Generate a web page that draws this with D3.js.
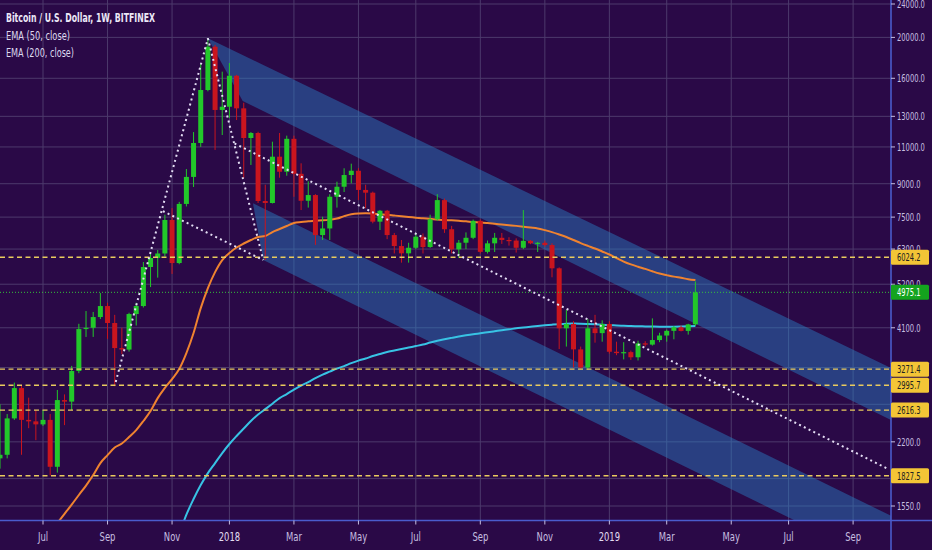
<!DOCTYPE html>
<html><head><meta charset="utf-8">
<script src="https://cdn.jsdelivr.net/npm/d3@7"></script>
<style>html,body{margin:0;padding:0;background:#2a0947;}svg{display:block}</style>
</head><body><svg id="chart" width="932" height="550"></svg>
<script>
// ---------- DATA ----------
const firstWeek = "2017-05-22";   // weekly candles, Monday open
const lastWeek  = "2019-04-01";
const open  = [2010,2050,2500,2950,2480,2460,2420,2480,1920,2763,2740,3238,4071,4100,4347,4616,4208,3670,3640,4419,4616,5712,6000,6150,7383,5837,8060,9340,11240,15010,19010,13460,
  13700,16225,13580,11550,11870,8190,8100,10430,9608,11500,9500,8200,8460,6800,7050,8383,8853,9437,9660,8700,8570,7316,7766,6800,6405,6155,6345,6740,6370,7410,8230,7020,6290,6522,6700,7350,6205,6500,6700,6620,6600,6345,6590,6500,6520,6440,5672,4088,4186,3644,3300,4088,3982,4186,3597,3570,3590,3490,3766,3740,3834,3930,4032,4110,4030,4177];
const high  = [2700,2560,3040,2990,2800,2616,2616,2560,2920,2850,3330,4190,4492,4470,4957,4700,4400,4100,4450,4700,5870,6200,6270,7600,7880,8150,9750,11930,17300,19900,19200,16590,
  17390,16300,14000,11930,11950,8950,11320,11870,11700,11700,10060,9120,8500,7517,8500,9100,9790,10040,9800,8950,8620,7800,7800,6880,6620,6520,6840,6860,7600,8500,8300,7150,6620,6900,7400,7400,6600,6880,6880,6720,6680,7795,6620,6550,6600,6500,5700,4517,4250,3700,4300,4400,4270,4250,3800,3790,3620,3820,3810,4316,3990,4060,4140,4150,4190,5280];
const low   = [1900,2010,2480,2050,2370,2220,2400,1830,1860,2410,2616,3200,3900,3900,4300,3860,2980,3550,3600,4150,4580,5120,5390,6050,5500,5800,7950,8840,11000,14900,10820,11740,
  12880,12740,9280,9970,8100,5934,8080,9300,9400,8380,7795,7900,6445,6620,6620,7900,8600,9020,8230,7870,7250,6990,6650,6150,5850,5850,6300,6150,6340,7350,6880,6150,6000,6300,6650,6150,6150,6200,6480,6420,6180,6300,6470,6200,6380,5400,3650,3700,3302,3260,3260,3780,3800,3560,3530,3450,3440,3430,3700,3720,3790,3800,3850,4020,3950,4140];
const close = [2050,2500,2950,2480,2460,2420,2480,1920,2763,2740,3238,4071,4100,4347,4616,4208,3670,3640,4419,4616,5712,6000,6150,7383,5837,8060,9340,11240,15010,19010,13460,13700,
  16225,13580,11550,11870,8190,8100,10430,9608,11500,9500,8200,8460,6800,7050,8383,8853,9437,9660,8700,8570,7316,7766,6800,6405,6155,6345,6740,6370,7410,8230,7020,6290,6522,6700,7350,6205,6500,6700,6620,6600,6345,6590,6500,6520,6440,5672,4088,4186,3644,3300,4088,3982,4186,3597,3570,3590,3490,3766,3740,3834,3930,4032,4110,4030,4177,4975.1];

const ema50Start = "2017-07-17";
const ema50 = [1412,1485,1562,1646,1733,1835,1959,2046,2132,2180,2258,2346,2465,2602,2793,2952,3099,3274,3571,3984,4565,5093,5556,5934,
  6165,6353,6494,6619,6727,6764,6914,7028,7144,7262,7302,7330,7355,7370,7398,7440,7540,7620,7650,7656,7645,7620,7600,7565,7531,7502,7478,7450,7430,7400,7383,7368,7350,7330,7302,7285,7260,7232,7202,7175,7150,7120,7085,7050,6985,6910,6821,6727,6619,6510,6412,6320,6217,6115,6000,5885,5795,5722,5655,5580,5513,5465,5420,5385,5346,5320];
const ema200Start = "2017-11-13";
const ema200 = [1329,1478,1610,1738,1855,1959,2069,2174,2271,2366,2465,2554,2630,2709,2793,2856,2926,2990,3048,3116,3176,3228,3280,3326,3380,3427,3466,3514,3552,3592,3620,3650,3680,3710,3741,3782,3820,3851,3880,3908,3934,3958,3979,4001,4023,4045,4065,4088,4105,4123,4141,4157,4170,4182,4191,4195,4193,4186,4177,4168,4159,4152,4145,4139,4134,4130,4127,4125,4125,4125,4127,4132,4139];

const yTicks = [24000,20000,16000,13000,11000,9000,7500,6300,5200,4100,3300,2700,2200,1800,1550];
const xTickDates  = ["2017-07-03","2017-09-04","2017-11-06","2018-01-01","2018-03-05","2018-05-07","2018-07-02","2018-09-03","2018-11-05","2019-01-07","2019-03-04","2019-05-06","2019-07-01","2019-09-02"];
const xTickLabels = ["Jul","Sep","Nov","2018","Mar","May","Jul","Sep","Nov","2019","Mar","May","Jul","Sep"];
const levelPrices = [6024.2, 3271.4, 2995.7, 2616.3, 1827.5];
const lastPrice = 4975.1;

// drawings (date, price)
const upperBand = [["2017-12-11",19900],["2019-11-25",2901],["2019-11-25",2179],["2018-01-14",14130]];
const lowerBand = [["2018-01-24",8085],["2019-11-25",1292],["2019-11-25",974],["2018-02-03",5934]];
const dottedLines = [
  [["2017-09-12",3050],["2017-12-11",19900]],
  [["2017-12-11",19900],["2018-02-03",5934]],
  [["2017-10-28",7750],["2018-02-03",5934]],
  [["2018-01-06",11210],["2019-10-07",1893]]
];
const title = "Bitcoin / U.S. Dollar, 1W, BITFINEX";
const legendLines = ["EMA (50, close)","EMA (200, close)"];

// ---------- CHART ----------
const W = 932, H = 550, plotR = 891, plotB = 520.5;
const bg = "#2a0947", gridC = "#4d3a6c", axisC = "#4a5ccc", labC = "#c6bfe0";
const FONT = "'Liberation Sans Narrow','Arial Narrow','DejaVu Sans Condensed',sans-serif";
const P = d3.utcParse("%Y-%m-%d");
const svg = d3.select("#chart");
svg.append("rect").attr("width",W).attr("height",H).attr("fill",bg);

const x = d3.scaleUtc().domain([P("2017-05-22"), P("2019-10-09")]).range([0, plotR]);
const y = d3.scaleLog().domain([24000, 1550]).range([4, 506]);

const weeks = d3.utcMonday.range(P(firstWeek), d3.utcDay.offset(P(lastWeek),1));
const candles = weeks.map((d,i)=>({d, o:open[i], h:high[i], l:low[i], c:close[i]}));
const ema50Pts = d3.utcMonday.range(P(ema50Start), d3.utcDay.offset(P(lastWeek),1)).map((d,i)=>({d,v:ema50[i]}));
const ema200Pts = d3.utcMonday.range(P(ema200Start), d3.utcDay.offset(P(lastWeek),1)).map((d,i)=>({d,v:ema200[i]}));

svg.append("defs").append("clipPath").attr("id","plot").append("rect").attr("x",0).attr("y",0).attr("width",plotR).attr("height",plotB);
const g = svg.append("g").attr("clip-path","url(#plot)");

// grid
g.selectAll(".hg").data(yTicks).join("line").attr("x1",0).attr("x2",plotR)
  .attr("y1",d=>y(d)).attr("y2",d=>y(d)).attr("stroke",gridC).attr("stroke-width",1);
g.selectAll(".vg").data(xTickDates).join("line").attr("y1",0).attr("y2",plotB)
  .attr("x1",d=>x(P(d))).attr("x2",d=>x(P(d))).attr("stroke",gridC).attr("stroke-width",1);

// channel bands
const bandPath = pts => "M" + pts.map(p=>[x(P(p[0])), y(p[1])].join(",")).join("L") + "Z";
[upperBand, lowerBand].forEach(b=>{
  g.append("path").attr("d", bandPath(b)).attr("fill","rgba(40,130,200,0.45)");
});

// EMA lines
const eLine = d3.line().x(d=>x(d.d)).y(d=>y(d.v)).curve(d3.curveMonotoneX);
g.append("path").datum(ema200Pts).attr("d",eLine).attr("fill","none").attr("stroke","#38c3e4").attr("stroke-width",2);
g.append("path").datum(ema50Pts).attr("d",eLine).attr("fill","none").attr("stroke","#ef8330").attr("stroke-width",2);

// candles
const up = "#22c82a", dn = "#c9151e", bw = 5;
const cg = g.append("g");
cg.selectAll("line").data(candles).join("line")
  .attr("x1",d=>x(d.d)).attr("x2",d=>x(d.d)).attr("y1",d=>y(d.h)).attr("y2",d=>y(d.l))
  .attr("stroke",d=>d.c>=d.o?up:dn).attr("stroke-width",1);
cg.selectAll("rect").data(candles).join("rect")
  .attr("x",d=>x(d.d)-bw/2).attr("width",bw)
  .attr("y",d=>y(Math.max(d.o,d.c)))
  .attr("height",d=>Math.max(1.2, Math.abs(y(d.o)-y(d.c))))
  .attr("fill",d=>d.c>=d.o?up:dn);

// horizontal levels
g.selectAll(".lvl").data(levelPrices).join("line").attr("x1",0).attr("x2",plotR)
  .attr("y1",d=>y(d)).attr("y2",d=>y(d)).attr("stroke","#e9cb5e").attr("stroke-width",1.4)
  .attr("stroke-dasharray","5,3.5");
g.append("line").attr("x1",0).attr("x2",plotR).attr("y1",y(lastPrice)).attr("y2",y(lastPrice))
  .attr("stroke","#35c23a").attr("stroke-width",1).attr("stroke-dasharray","1,2");

// dotted drawings
dottedLines.forEach(seg=>{
  g.append("line").attr("x1",x(P(seg[0][0]))).attr("y1",y(seg[0][1]))
    .attr("x2",x(P(seg[1][0]))).attr("y2",y(seg[1][1]))
    .attr("stroke","#e4def4").attr("stroke-width",2).attr("stroke-dasharray","2,3.3");
});

// axes
svg.append("line").attr("x1",0).attr("x2",W).attr("y1",plotB).attr("y2",plotB).attr("stroke",axisC).attr("stroke-width",1.6);
svg.append("line").attr("x1",plotR).attr("x2",plotR).attr("y1",0).attr("y2",H).attr("stroke",axisC).attr("stroke-width",1.6);

const numLen = s => s.replace(/\./g,"").length*4.35 + 1.8;
function squeeze(sel, f){
  sel.each(function(){ const w=this.getComputedTextLength(); this.setAttribute("textLength", w*f); this.setAttribute("lengthAdjust","spacingAndGlyphs"); });
}

// x ticks
svg.selectAll(".xt").data(xTickDates).join("line").attr("x1",d=>x(P(d))).attr("x2",d=>x(P(d)))
  .attr("y1",plotB).attr("y2",plotB+4).attr("stroke",labC).attr("stroke-width",1);
const xl = svg.selectAll(".xl").data(xTickDates).join("text").attr("x",d=>x(P(d))).attr("y",541)
  .attr("text-anchor","middle").attr("font-family",FONT).attr("font-size",12)
  .attr("fill",(d,i)=>/^\d/.test(xTickLabels[i])?"#e2ddf2":labC)
  .text((d,i)=>xTickLabels[i]);
squeeze(xl, 0.78);

// y ticks
const boxPrices = levelPrices.concat([lastPrice]);
svg.selectAll(".yt").data(yTicks).join("line").attr("x1",plotR).attr("x2",plotR+4)
  .attr("y1",d=>y(d)).attr("y2",d=>y(d)).attr("stroke",labC).attr("stroke-width",1);
svg.selectAll(".yl").data(yTicks.filter(t=>!boxPrices.some(b=>Math.abs(y(b)-y(t))<8.1)))
  .join("text").attr("x",897).attr("y",d=>y(d)+4)
  .attr("font-family",FONT).attr("font-size",11).attr("fill",labC)
  .attr("textLength",d=>numLen(d.toFixed(1))).attr("lengthAdjust","spacingAndGlyphs")
  .text(d=>d.toFixed(1));

// price boxes
function box(p, fill, tc){
  const gy = y(p);
  svg.append("rect").attr("x",891).attr("y",gy-7.5).attr("width",38).attr("height",15).attr("rx",1.5).attr("fill",fill);
  svg.append("text").attr("x",897).attr("y",gy+4).attr("font-family",FONT).attr("font-size",11)
    .attr("fill",tc).attr("textLength",numLen(p.toFixed(1))).attr("lengthAdjust","spacingAndGlyphs").text(p.toFixed(1));
}
levelPrices.forEach(p=>box(p,"#f3c536","#222"));
box(lastPrice,"#14a41e","#ffffff");

// legend
svg.append("text").attr("x",6).attr("y",22).attr("font-family",FONT).attr("font-size",13)
  .attr("font-weight","bold").attr("fill","#ece8f7").attr("textLength",149).attr("lengthAdjust","spacingAndGlyphs").text(title);
legendLines.forEach((t,i)=>{
  svg.append("text").attr("x",6).attr("y",40+i*17).attr("font-family",FONT).attr("font-size",13)
    .attr("fill","#ddd8ee").attr("textLength",i?68:64).attr("lengthAdjust","spacingAndGlyphs").text(t);
});
</script></body></html>
